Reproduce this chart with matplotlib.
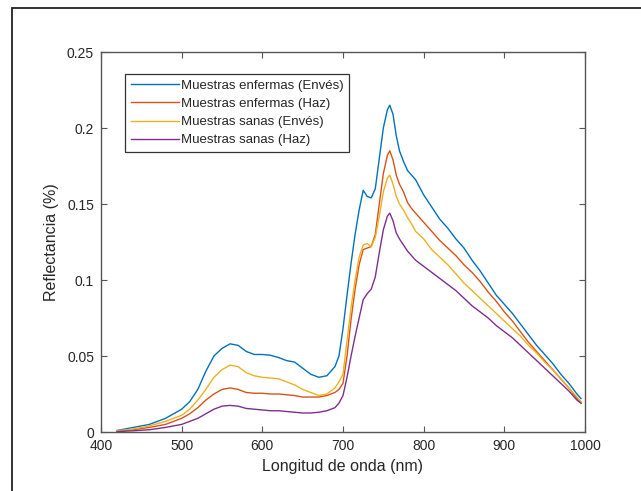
import matplotlib
matplotlib.use("Agg")
import matplotlib.pyplot as plt
from matplotlib.patches import Rectangle

wavelength = [420, 440, 460, 480, 500, 510, 520, 530, 540, 550, 560, 570, 580, 590, 600,
              610, 620, 630, 640, 650, 660, 670, 680, 690, 695, 700, 705, 710, 715, 720,
              725, 730, 735, 740, 745, 750, 755, 758, 762, 766, 770, 775, 780, 785, 790,
              800, 810, 820, 830, 840, 850, 860, 870, 880, 890, 900, 910, 920, 930, 940,
              950, 960, 970, 980, 990, 995]

enfermas_enves = [0.001, 0.003, 0.005, 0.009, 0.015, 0.020, 0.028, 0.040, 0.050, 0.055, 0.058,
                  0.057, 0.053, 0.051, 0.051, 0.0505, 0.049, 0.047, 0.046, 0.042, 0.038, 0.036,
                  0.037, 0.043, 0.050, 0.068, 0.090, 0.111, 0.130, 0.146, 0.159, 0.155, 0.154,
                  0.160, 0.180, 0.200, 0.212, 0.215, 0.209, 0.195, 0.185, 0.178, 0.172, 0.169,
                  0.166, 0.156, 0.148, 0.140, 0.134, 0.127, 0.121, 0.113, 0.106, 0.098, 0.090,
                  0.084, 0.078, 0.071, 0.064, 0.057, 0.051, 0.045, 0.038, 0.032, 0.025, 0.022]

enfermas_haz = [0.0005, 0.0015, 0.003, 0.005, 0.009, 0.012, 0.016, 0.021, 0.025, 0.028, 0.029,
                0.028, 0.026, 0.0255, 0.0255, 0.025, 0.025, 0.0245, 0.024, 0.023, 0.023, 0.023,
                0.024, 0.026, 0.028, 0.032, 0.050, 0.074, 0.094, 0.110, 0.120, 0.121, 0.122,
                0.130, 0.150, 0.170, 0.182, 0.185, 0.179, 0.169, 0.163, 0.158, 0.151, 0.147,
                0.144, 0.138, 0.132, 0.126, 0.121, 0.116, 0.110, 0.105, 0.099, 0.092, 0.086,
                0.079, 0.073, 0.066, 0.059, 0.053, 0.047, 0.041, 0.035, 0.029, 0.022, 0.019]

sanas_enves = [0.0008, 0.002, 0.004, 0.007, 0.011, 0.015, 0.021, 0.028, 0.036, 0.041, 0.044,
               0.043, 0.039, 0.037, 0.036, 0.0355, 0.035, 0.033, 0.031, 0.028, 0.026, 0.024,
               0.025, 0.029, 0.033, 0.038, 0.060, 0.082, 0.100, 0.115, 0.123, 0.124, 0.122,
               0.128, 0.142, 0.158, 0.167, 0.169, 0.163, 0.155, 0.150, 0.146, 0.141, 0.137,
               0.132, 0.127, 0.120, 0.115, 0.110, 0.104, 0.098, 0.093, 0.088, 0.083, 0.078,
               0.073, 0.068, 0.063, 0.057, 0.052, 0.046, 0.041, 0.035, 0.029, 0.023, 0.020]

sanas_haz = [0.0003, 0.0008, 0.0015, 0.003, 0.005, 0.007, 0.009, 0.012, 0.015, 0.017, 0.0175,
             0.017, 0.0155, 0.015, 0.0145, 0.014, 0.014, 0.0135, 0.013, 0.0125, 0.0125, 0.013,
             0.014, 0.016, 0.019, 0.024, 0.036, 0.050, 0.063, 0.075, 0.087, 0.091, 0.094,
             0.102, 0.118, 0.133, 0.142, 0.144, 0.139, 0.131, 0.127, 0.123, 0.119, 0.116,
             0.113, 0.109, 0.105, 0.101, 0.097, 0.093, 0.088, 0.083, 0.079, 0.075, 0.070,
             0.066, 0.062, 0.057, 0.052, 0.047, 0.042, 0.037, 0.032, 0.027, 0.021, 0.019]

labels = ["Muestras enfermas (Envés)", "Muestras enfermas (Haz)",
          "Muestras sanas (Envés)", "Muestras sanas (Haz)"]
colors = ["#0072BD", "#D95319", "#EDB120", "#7E2F8E"]

xticks = [400, 500, 600, 700, 800, 900, 1000]
yticks = [0, 0.05, 0.1, 0.15, 0.2, 0.25]
ytick_labels = ["0", "0.05", "0.1", "0.15", "0.2", "0.25"]

plt.rcParams['font.family'] = ['Liberation Sans', 'DejaVu Sans']

W, H = 641, 491
fig = plt.figure(figsize=(W / 100, H / 100), dpi=100)
ax = fig.add_axes([101 / W, 1 - 432 / H, (585 - 101) / W, (432 - 52) / H])

for ys, lab, c in zip([enfermas_enves, enfermas_haz, sanas_enves, sanas_haz], labels, colors):
    ax.plot(wavelength, ys, color=c, lw=1.0, label=lab)

ax.set_xlim(400, 1000)
ax.set_ylim(0, 0.25)
ax.set_xticks(xticks)
ax.set_yticks(yticks)
ax.set_yticklabels(ytick_labels)
gray = "#262626"
for s in ax.spines.values():
    s.set_color("#555555")
    s.set_linewidth(1.0)
ax.tick_params(direction="in", top=True, right=True, length=4, width=0.8,
               colors="#555555", labelcolor=gray, labelsize=10, pad=5)
ax.set_xlabel("Longitud de onda (nm)", fontsize=11.5, color=gray, labelpad=4)
ax.set_ylabel("Reflectancia (%)", fontsize=11.5, color=gray, labelpad=6)

leg = ax.legend(loc="upper left", bbox_to_anchor=(24 / 484, 1 - 22 / 380), fontsize=9.5,
                frameon=True, fancybox=False, handlelength=3.7, handletextpad=0.1,
                borderpad=0.42, labelspacing=0.45, borderaxespad=0)
leg.get_frame().set_edgecolor("black")
leg.get_frame().set_linewidth(0.9)
for t in leg.get_texts():
    t.set_color(gray)

# outer figure frame (partially visible)
fig.patches.append(Rectangle((12 / W, -0.2), 1.5, 1 - 8 / H + 0.2, transform=fig.transFigure,
                             fill=False, edgecolor="#222222", linewidth=1.3, clip_on=False))

fig.savefig("out.png", dpi=100, facecolor="white")
